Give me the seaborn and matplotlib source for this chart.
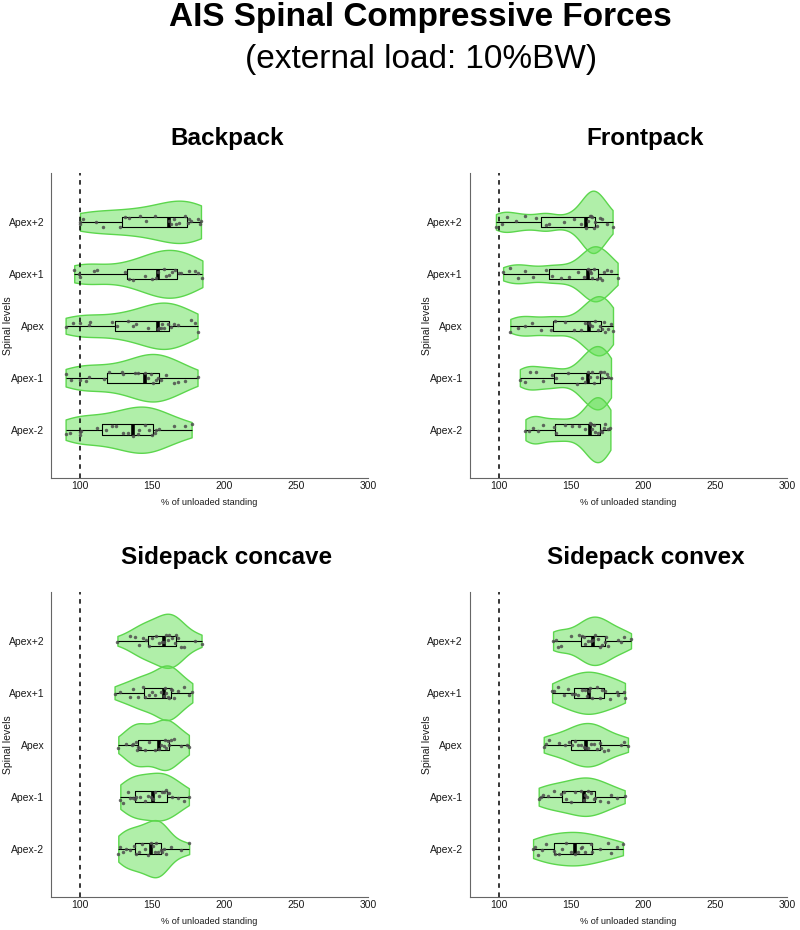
import matplotlib
matplotlib.use("Agg")
import matplotlib.pyplot as plt
import seaborn as sns
import pandas as pd
import numpy as np

# spinal levels, top to bottom
levels = ["Apex+2", "Apex+1", "Apex", "Apex-1", "Apex-2"]
panel_titles = ["Backpack", "Frontpack", "Sidepack concave", "Sidepack convex"]
xticks = [100, 150, 200, 250, 300]

# % of unloaded standing
backpack_p2 = [100, 100, 102, 111, 116, 128, 131, 134, 142, 146, 152, 162, 163, 165, 167, 169, 173, 175, 176, 177, 182, 183, 184]
backpack_p1 = [96, 99, 100, 110, 112, 131, 134, 137, 145, 150, 153, 154, 158, 160, 162, 164, 166, 169, 170, 176, 180, 182, 185]
backpack_apex = [90, 95, 100, 106, 107, 122, 126, 133, 137, 139, 147, 154, 155, 156, 157, 158, 161, 163, 165, 168, 177, 180, 181.6]
backpack_m1 = [90, 94, 100, 104, 106, 117, 120, 129, 130, 138, 140, 145, 147, 149, 151, 153, 154, 156, 160, 165, 168, 173, 181.6]
backpack_m2 = [90, 93, 100, 100, 101, 112, 118, 122, 125, 130, 133, 137, 140, 141, 145, 148, 150, 152, 153, 155, 165, 173, 177.5]

frontpack_p2 = [98, 102, 106, 112, 118, 126, 133, 135, 145, 152, 157, 160.6, 162, 163, 164, 165, 166, 167, 168, 170, 172, 175, 179]
frontpack_p1 = [103, 108, 113, 118, 124, 133, 137, 143, 149, 155, 159, 162, 163, 164, 165, 166, 168, 170, 172, 173, 175, 178, 182.5]
frontpack_apex = [108, 113, 118, 123, 129, 136, 139, 146, 152, 157, 160, 162.4, 163, 165, 167, 169, 170, 172, 173, 174, 176, 178, 179.3]
frontpack_m1 = [114.6, 118, 122, 126, 131, 137, 140, 148, 154, 158, 160, 161.7, 163, 165, 166, 168, 170, 171, 172, 173, 175, 176, 177.9]
frontpack_m2 = [118.5, 121, 124, 127, 131, 138, 140, 146, 151, 156, 160, 163, 164, 165, 166, 167, 169, 171, 172, 173, 174, 176, 177.5]

concave_p2 = [126, 135, 138, 141, 144, 146, 148, 150, 153, 155, 157, 158, 160, 161, 162, 164, 166, 167, 168, 170, 172, 180, 184.4]
concave_p1 = [124, 128, 135, 137, 140, 144, 145, 148, 150, 152, 156, 158, 159, 160, 161, 162, 163, 164, 165, 168, 172, 176, 178]
concave_apex = [126.6, 132, 136, 137, 139, 139.5, 140.5, 142, 145, 148, 152, 154.8, 156, 158, 159, 160, 161, 162, 163, 165, 170, 174, 175.6]
concave_m1 = [128, 130, 133, 135, 137, 138, 139, 142, 145, 147, 149, 150.4, 152, 155, 157, 158, 159.5, 161, 162, 164, 168, 172, 175.6]
concave_m2 = [126.6, 128, 130, 132, 135, 137.5, 139, 141, 143, 145, 147, 149.2, 151, 152, 153, 154, 156, 157, 158, 160, 163, 170, 175.8]

convex_p2 = [137.7, 140, 141, 143, 150, 156, 158, 159, 160, 162, 164, 165.4, 167, 169, 170, 172, 173.5, 174.5, 176, 183, 185, 187, 191.8]
convex_p1 = [137, 138, 141, 145, 148, 151, 153, 155, 158, 160, 161, 162.4, 163, 165, 168, 170, 172, 174, 177, 182, 183, 187, 187.6]
convex_apex = [131.2, 133, 135, 142, 146, 149, 151, 153, 155, 157, 159, 160.8, 162, 164, 166, 168, 170, 171, 173, 176, 185, 187, 189.7]
convex_m1 = [127.7, 129, 131, 134, 138, 143, 145, 147, 150, 153, 157, 159.4, 160, 161, 162, 164, 166, 167, 170, 176, 178, 182, 187.4]
convex_m2 = [123.8, 125, 127, 130, 133, 138, 139, 142, 144, 147, 150, 153.2, 155, 157, 158, 160, 164, 165, 170, 176, 178, 182, 186.2]

panels = [
    [backpack_p2, backpack_p1, backpack_apex, backpack_m1, backpack_m2],
    [frontpack_p2, frontpack_p1, frontpack_apex, frontpack_m1, frontpack_m2],
    [concave_p2, concave_p1, concave_apex, concave_m1, concave_m2],
    [convex_p2, convex_p1, convex_apex, convex_m1, convex_m2],
]
violin_widths = [0.92, 1.25, 1.1, 0.93]
bw_adjusts = [1.0, 0.7, 0.85, 1.0]


def robust_bw(kde):
    # ksdensity-style bandwidth: MAD based sigma, normal reference rule
    x = kde.dataset[0]
    n = x.size
    sig = np.median(np.abs(x - np.median(x))) / 0.6745
    bw = sig * (4 / (3 * n)) ** 0.2
    return bw / np.std(x, ddof=1)


sns.set_style("white")
plt.rcParams["font.family"] = ["Liberation Sans", "DejaVu Sans"]
plt.rcParams["text.color"] = "black"

np.random.seed(3)

fig = plt.figure(figsize=(8, 9.3), dpi=100)
positions = [
    [0.064, 0.486, 0.396, 0.328],
    [0.5875, 0.486, 0.396, 0.328],
    [0.064, 0.0355, 0.396, 0.328],
    [0.5875, 0.0355, 0.396, 0.328],
]

for i, (vals, title) in enumerate(zip(panels, panel_titles)):
    ax = fig.add_axes(positions[i])
    df = pd.DataFrame({
        "value": [v for group in vals for v in group],
        "level": [lev for lev, group in zip(levels, vals) for _ in group],
    })

    sns.violinplot(data=df, x="value", y="level", order=levels, ax=ax,
                   inner=None, cut=0, density_norm="area", width=violin_widths[i],
                   bw_method=robust_bw, bw_adjust=bw_adjusts[i],
                   color="#64e155", linewidth=1.0)
    for coll in ax.collections:
        coll.set_facecolor((0.39, 0.88, 0.33, 0.5))
        coll.set_edgecolor((0.36, 0.84, 0.30, 1.0))

    sns.boxplot(data=df, x="value", y="level", order=levels, ax=ax,
                width=0.2, whis=(0, 100), fill=False, color="black",
                linewidth=0.8, showcaps=False, showfliers=False,
                medianprops={"linewidth": 2.6, "color": "black"})

    sns.stripplot(data=df, x="value", y="level", order=levels, ax=ax,
                  jitter=0.12, size=2.5, color="#4d4d4d", alpha=0.85,
                  linewidth=0)

    ax.axvline(100, color="black", linestyle=(0, (3, 3)), linewidth=1.1)

    ax.set_xlim(80, 300)
    ax.set_ylim(4.93, -0.94)
    ax.set_xticks(xticks)
    ax.set_xticklabels([str(t) for t in xticks])
    ax.tick_params(axis="x", direction="in", length=3)
    ax.tick_params(axis="y", direction="out", length=2.5)
    ax.tick_params(axis="both", labelsize=7.5, color="#555555",
                   labelcolor="#1a1a1a", pad=2.5)
    for side in ["top", "right"]:
        ax.spines[side].set_visible(False)
    for side in ["left", "bottom"]:
        ax.spines[side].set_color("#666666")
        ax.spines[side].set_linewidth(0.8)

    ax.set_xlabel("% of unloaded standing", fontsize=6.6, color="#1a1a1a")
    ax.xaxis.set_label_coords(0.5, -0.064)
    ax.set_ylabel("Spinal levels", fontsize=7.5, color="#1a1a1a")
    ax.yaxis.set_label_coords(-0.12, 0.5)
    ax.set_title(title, fontsize=17.5, fontweight="bold", pad=20, x=0.554)

fig.text(0.526, 0.972, "AIS Spinal Compressive Forces", ha="center", va="baseline",
         fontsize=24, fontweight="bold")
fig.text(0.526, 0.927, "(external load: 10%BW)", ha="center", va="baseline",
         fontsize=24)

fig.savefig("out.png", dpi=100)
